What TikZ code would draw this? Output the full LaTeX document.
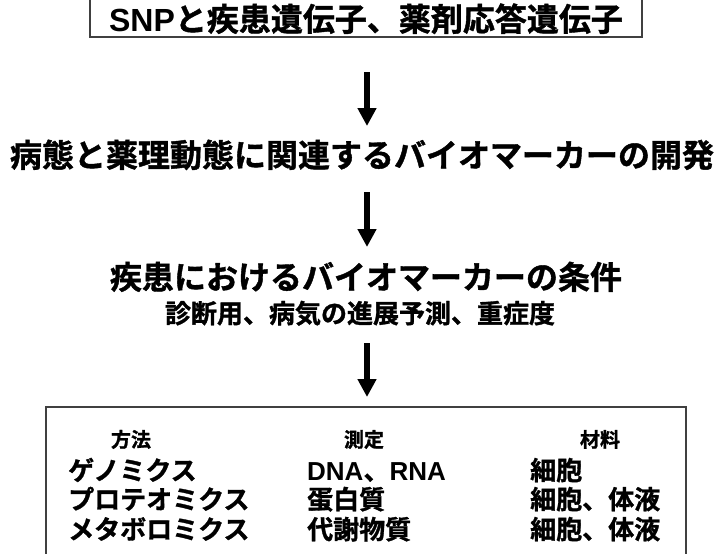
\documentclass[tikz,border=0pt]{standalone}
\usepackage{fontspec}
\setmainfont{Liberation Sans}
\newfontfamily\cjk{Noto Sans CJK JP}[BoldFont={Noto Sans CJK JP Bold}, BoldFeatures={FakeBold=1.2}]
\usetikzlibrary{arrows.meta}
\tikzset{
  frame/.style={draw=black!75, line width=1.3pt},
  bigarrow/.style={line width=6pt, -{Triangle[width=18pt,length=18pt]}},
  txt/.style={inner sep=0pt, anchor=base, font=\bfseries},
  cell/.style={inner sep=0pt, anchor=base west, font=\bfseries\fontsize{26}{30}\selectfont},
  head/.style={inner sep=0pt, anchor=base, font=\bfseries\fontsize{20}{24}\selectfont},
}
\begin{document}
\begin{tikzpicture}[x=1pt,y=-1pt]
\useasboundingbox (0,0) rectangle (720,554);
% top box
\draw[frame] (90,-10) rectangle (642,37);
\node[txt] (t1) at (366,31) {\fontsize{32}{38}\selectfont SNP{\cjk\bfseries と疾患遺伝子、薬剤応答遺伝子}};
\coordinate (a1s) at (367,72);
\coordinate (a1e) at (367,126);
\draw[bigarrow] (a1s) -- (a1e);
\node[txt] (t2) at (362,167) {\fontsize{32}{38}\selectfont\cjk\bfseries 病態と薬理動態に関連するバイオマーカーの開発};
\coordinate (a2s) at (367,192);
\coordinate (a2e) at (367,247);
\draw[bigarrow] (a2s) -- (a2e);
\node[txt] (t3) at (366,289) {\fontsize{32}{38}\selectfont\cjk\bfseries 疾患におけるバイオマーカーの条件};
\node[txt] (t4) at (360,323) {\fontsize{26}{30}\selectfont\cjk\bfseries 診断用、病気の進展予測、重症度};
\coordinate (a3s) at (367,343);
\coordinate (a3e) at (367,397);
\draw[bigarrow] (a3s) -- (a3e);
% bottom box
\draw[frame] (46,407) rectangle (686,570);
\node[head] (h1) at (131,447) {\cjk\bfseries 方法};
\node[head] (h2) at (364,447) {\cjk\bfseries 測定};
\node[head] (h3) at (600,447) {\cjk\bfseries 材料};
\node[cell] (c11) at (68,480) {\cjk\bfseries ゲノミクス};
\node[cell] (c21) at (68,509) {\cjk\bfseries プロテオミクス};
\node[cell] (c31) at (68,539) {\cjk\bfseries メタボロミクス};
\node[cell] (c12) at (307,480) {DNA{\cjk\bfseries 、}RNA};
\node[cell] (c22) at (307,509) {\cjk\bfseries 蛋白質};
\node[cell] (c32) at (307,539) {\cjk\bfseries 代謝物質};
\node[cell] (c13) at (530,480) {\cjk\bfseries 細胞};
\node[cell] (c23) at (530,509) {\cjk\bfseries 細胞、体液};
\node[cell] (c33) at (530,539) {\cjk\bfseries 細胞、体液};
\end{tikzpicture}
\end{document}
